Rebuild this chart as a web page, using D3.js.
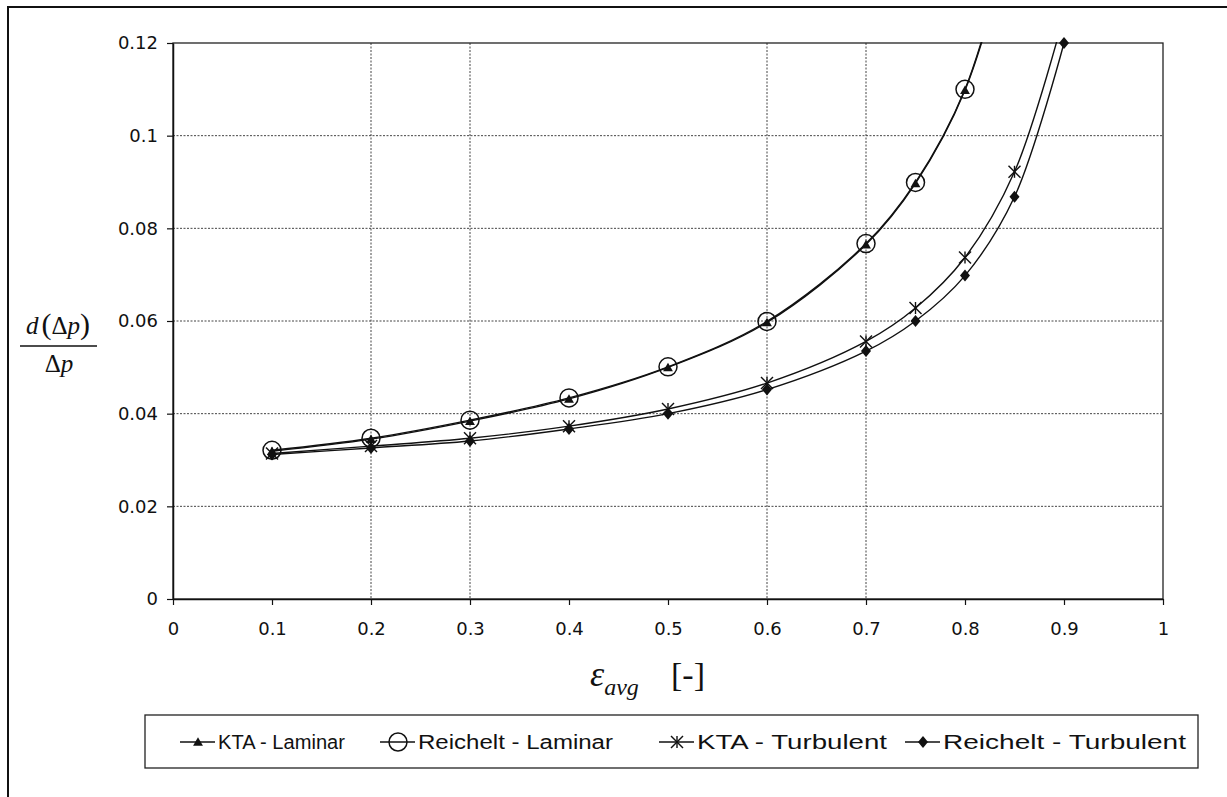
<!DOCTYPE html>
<html>
<head>
<meta charset="utf-8">
<script src="https://cdn.jsdelivr.net/npm/d3@7"></script>
<style>
  html, body { margin: 0; padding: 0; background: #fff; }
  svg { display: block; }
</style>
</head>
<body>
<svg id="chart" width="1227" height="797"></svg>
<script>
// Porosity values (x) shared by all series
const eps = [0.1, 0.2, 0.3, 0.4, 0.5, 0.6, 0.7, 0.75, 0.8, 0.85, 0.9];

// Relative pressure-drop uncertainty d(Δp)/Δp for each correlation
const ktaLaminar       = [0.0319, 0.0345, 0.0384, 0.0432, 0.0500, 0.0597, 0.0765, 0.0897, 0.1098, 0.145];
const reicheltLaminar  = [0.0321, 0.0347, 0.0386, 0.0434, 0.0501, 0.0599, 0.0767, 0.0899, 0.1100, 0.146];
const ktaTurbulent     = [0.0314, 0.0330, 0.0347, 0.0373, 0.0410, 0.0466, 0.0556, 0.0628, 0.0737, 0.0922, 0.126];
const reicheltTurbulent= [0.0312, 0.0326, 0.0341, 0.0367, 0.0400, 0.0452, 0.0535, 0.0600, 0.0698, 0.0868, 0.1200];

const seriesNames = ["KTA - Laminar", "Reichelt - Laminar", "KTA - Turbulent", "Reichelt - Turbulent"];
const markerKinds = ["triangle", "circle", "asterisk", "diamond"];

const xTicks = [0, 0.1, 0.2, 0.3, 0.4, 0.5, 0.6, 0.7, 0.8, 0.9, 1];
const xTickLabels = ["0", "0.1", "0.2", "0.3", "0.4", "0.5", "0.6", "0.7", "0.8", "0.9", "1"];
const yTicks = [0, 0.02, 0.04, 0.06, 0.08, 0.1, 0.12];
const yTickLabels = ["0", "0.02", "0.04", "0.06", "0.08", "0.1", "0.12"];
const xGridAt = [0.2, 0.3, 0.6, 0.7];

const svg = d3.select("#chart");

const plot = { left: 173, right: 1163, top: 43, bottom: 599 };
const x = d3.scaleLinear().domain([0, 1]).range([plot.left, plot.right]);
const y = d3.scaleLinear().domain([0, 0.12]).range([plot.bottom, plot.top]);

// outer frame (left and top edges)
svg.append("path")
  .attr("d", `M8,797 L8,7 L1227,7`)
  .attr("fill", "none").attr("stroke", "#111").attr("stroke-width", 2);

// horizontal gridlines
svg.append("g").selectAll("line").data(yTicks.slice(1, -1)).join("line")
  .attr("x1", plot.left).attr("x2", plot.right)
  .attr("y1", d => y(d)).attr("y2", d => y(d))
  .attr("stroke", "#444").attr("stroke-width", 1).attr("stroke-dasharray", "2,1.5");

// vertical gridlines
svg.append("g").selectAll("line").data(xGridAt).join("line")
  .attr("x1", d => x(d)).attr("x2", d => x(d))
  .attr("y1", plot.top).attr("y2", plot.bottom)
  .attr("stroke", "#444").attr("stroke-width", 1).attr("stroke-dasharray", "2,1.5");

// plot area border
svg.append("rect")
  .attr("x", plot.left).attr("y", plot.top)
  .attr("width", plot.right - plot.left).attr("height", plot.bottom - plot.top)
  .attr("fill", "none").attr("stroke", "#222").attr("stroke-width", 1.3);

// axes
const xAxis = d3.axisBottom(x).tickValues(xTicks).tickFormat((d, i) => xTickLabels[i]).tickSize(6).tickSizeOuter(0);
const yAxis = d3.axisLeft(y).tickValues(yTicks).tickFormat((d, i) => yTickLabels[i]).tickSize(6).tickSizeOuter(0);

const gx = svg.append("g").attr("transform", `translate(0,${plot.bottom})`).call(xAxis);
const gy = svg.append("g").attr("transform", `translate(${plot.left},0)`).call(yAxis);
[gx, gy].forEach(g => {
  g.select(".domain").attr("stroke", "#111").attr("stroke-width", 1.5);
  g.selectAll(".tick line").attr("stroke", "#111").attr("stroke-width", 1.2);
  g.selectAll(".tick text").attr("fill", "#111")
    .style("font-family", "'DejaVu Sans', sans-serif").style("font-size", "18px");
});
gx.selectAll(".tick text").attr("dy", "1.5em");
gy.selectAll(".tick text").attr("x", -15);

// clip region for curves
svg.append("clipPath").attr("id", "plotClip")
  .append("rect").attr("x", plot.left).attr("y", plot.top - 1)
  .attr("width", plot.right - plot.left).attr("height", plot.bottom - plot.top + 2);

const allSeries = [ktaLaminar, reicheltLaminar, ktaTurbulent, reicheltTurbulent];

const line = d3.line()
  .x(d => x(d[0])).y(d => y(d[1]))
  .curve(d3.curveCatmullRom.alpha(0.5));

const curves = svg.append("g").attr("clip-path", "url(#plotClip)");
allSeries.forEach(vals => {
  const pts = vals.map((v, i) => [eps[i], v]);
  curves.append("path").datum(pts)
    .attr("d", line)
    .attr("fill", "none").attr("stroke", "#111").attr("stroke-width", 1.4);
});

// marker shapes
function drawMarker(g, kind, cx, cy) {
  if (kind === "triangle") {
    g.append("path").attr("d", d3.symbol(d3.symbolTriangle, 42)())
      .attr("transform", `translate(${cx},${cy + 1})`).attr("fill", "#111");
  } else if (kind === "circle") {
    g.append("circle").attr("cx", cx).attr("cy", cy).attr("r", 9)
      .attr("fill", "none").attr("stroke", "#111").attr("stroke-width", 1.5);
  } else if (kind === "asterisk") {
    const r = 6;
    const a = g.append("g").attr("transform", `translate(${cx},${cy})`)
      .attr("stroke", "#111").attr("stroke-width", 1.4);
    a.append("line").attr("x1", -r).attr("y1", -r).attr("x2", r).attr("y2", r);
    a.append("line").attr("x1", -r).attr("y1", r).attr("x2", r).attr("y2", -r);
    a.append("line").attr("x1", 0).attr("y1", -r).attr("x2", 0).attr("y2", r);
  } else if (kind === "diamond") {
    g.append("path").attr("d", "M0,-6L5,0L0,6L-5,0Z")
      .attr("transform", `translate(${cx},${cy})`).attr("fill", "#111");
  }
}

const markers = svg.append("g");
allSeries.forEach((vals, s) => {
  vals.forEach((v, i) => {
    if (v <= 0.1201) drawMarker(markers, markerKinds[s], x(eps[i]), y(v));
  });
});

// y-axis title: d(Δp) / Δp
const yt = svg.append("g").style("font-family", "'Liberation Serif', 'DejaVu Serif', serif").attr("fill", "#111");
const num = yt.append("text").attr("x", 58).attr("y", 334).attr("text-anchor", "middle").style("font-size", "25px");
num.append("tspan").style("font-style", "italic").text("d");
num.append("tspan").style("font-size", "30px").attr("dx", 3).text("(");
num.append("tspan").text("Δ");
num.append("tspan").style("font-style", "italic").text("p");
num.append("tspan").style("font-size", "30px").text(")");
yt.append("line").attr("x1", 20).attr("x2", 97).attr("y1", 346).attr("y2", 346)
  .attr("stroke", "#111").attr("stroke-width", 1.3);
const den = yt.append("text").attr("x", 59).attr("y", 372).attr("text-anchor", "middle").style("font-size", "25px");
den.append("tspan").text("Δ");
den.append("tspan").style("font-style", "italic").text("p");

// x-axis title: ε_avg [-]
const xt = svg.append("text").attr("y", 686).attr("fill", "#111")
  .style("font-family", "'Liberation Serif', 'DejaVu Serif', serif");
xt.append("tspan").attr("x", 590).style("font-style", "italic").style("font-size", "36px").text("ε");
xt.append("tspan").attr("dy", 9).style("font-style", "italic").style("font-size", "24px").text("avg");
xt.append("tspan").attr("x", 671).attr("dy", -9).style("font-size", "34px").text("[-]");

// legend
const legend = svg.append("g");
legend.append("rect").attr("x", 145).attr("y", 715).attr("width", 1053).attr("height", 53)
  .attr("fill", "#fff").attr("stroke", "#222").attr("stroke-width", 1.3);
const legendTextX = [218, 418, 697, 943];
const legendTextW = [127, 195, 190, 243];
seriesNames.forEach((name, s) => {
  const tx = legendTextX[s];
  const ly = 742;
  legend.append("line").attr("x1", tx - 38).attr("x2", tx - 3).attr("y1", ly).attr("y2", ly)
    .attr("stroke", "#111").attr("stroke-width", 1.6);
  drawMarker(legend, markerKinds[s], tx - 20, ly);
  legend.append("text").attr("x", tx).attr("y", ly).attr("dy", "0.36em")
    .attr("fill", "#111")
    .attr("textLength", legendTextW[s]).attr("lengthAdjust", "spacingAndGlyphs")
    .style("font-family", "'Liberation Sans', Arial, sans-serif").style("font-size", "20px")
    .text(name);
});
</script>
</body>
</html>
